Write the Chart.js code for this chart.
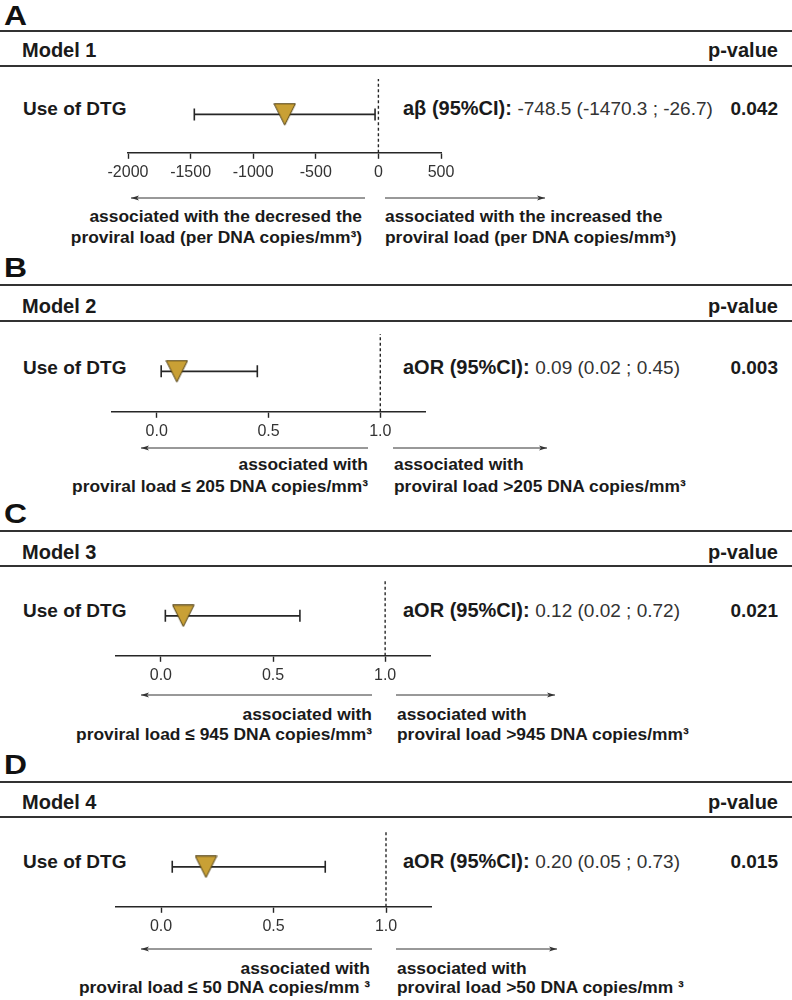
<!DOCTYPE html>
<html>
<head>
<meta charset="utf-8">
<script src="https://cdn.jsdelivr.net/npm/chart.js@4/dist/chart.umd.min.js"></script>
<style>
  html, body { margin: 0; padding: 0; background: #fff; }
  #page { position: relative; width: 792px; height: 1000px; overflow: hidden;
          font-family: "Liberation Sans", Arial, sans-serif; color: #1a1a1a; }
  .t { position: absolute; line-height: 1; white-space: nowrap; transform: translateY(-50%); }
  .letter { transform: translateY(-50%) scaleX(1.18); transform-origin: left center; }
  .rule { position: absolute; left: 0; width: 792px; height: 2px; background: #333; }
  canvas { position: absolute; left: 0; }
  svg { position: absolute; left: 0; top: 0; }
</style>
</head>
<body>
<div id="page"></div>
<script>
// ---- data ----
const PANEL_LETTERS = ['A', 'B', 'C', 'D'];
const MODEL_NAMES = ['Model 1', 'Model 2', 'Model 3', 'Model 4'];
const ROW_LABEL = 'Use of DTG';
const P_HEADER = 'p-value';

const EFFECT_LABELS = ['aβ (95%CI):', 'aOR (95%CI):', 'aOR (95%CI):', 'aOR (95%CI):'];
const EFFECT_TEXT = ['-748.5 (-1470.3 ; -26.7)', '0.09 (0.02 ; 0.45)', '0.12 (0.02 ; 0.72)', '0.20 (0.05 ; 0.73)'];
const P_VALUES = ['0.042', '0.003', '0.021', '0.015'];

// plotted marks (as drawn in the picture)
const ESTIMATES = [-748.5, 0.09, 0.10, 0.20];
const CI_LOWER = [-1470.3, 0.02, 0.02, 0.05];
const CI_UPPER = [-26.7, 0.45, 0.62, 0.73];
const NULL_VALUES = [0, 1, 1, 1];

const AXIS_MIN = [-2000, -0.2, -0.2, -0.2];
const AXIS_MAX = [500, 1.2, 1.2, 1.2];
const TICKS_BETA = [-2000, -1500, -1000, -500, 0, 500];
const TICKS_OR = [0, 0.5, 1];
const AXIS_TICKS = [TICKS_BETA, TICKS_OR, TICKS_OR, TICKS_OR];
const TICK_DECIMALS = [0, 1, 1, 1];

const LEFT_NOTES = [
  ['associated with the decresed the', 'proviral load (per DNA copies/mm³)'],
  ['associated with', 'proviral load ≤ 205 DNA copies/mm³'],
  ['associated with', 'proviral load ≤ 945 DNA copies/mm³'],
  ['associated with', 'proviral load ≤ 50 DNA copies/mm ³']
];
const RIGHT_NOTES = [
  ['associated with the increased the', 'proviral load (per DNA copies/mm³)'],
  ['associated with', 'proviral load >205 DNA copies/mm³'],
  ['associated with', 'proviral load >945 DNA copies/mm³'],
  ['associated with', 'proviral load >50 DNA copies/mm ³']
];

// ---- layout (pixels) ----
const LAYOUT = [
  {letterY: 16, rule1: 31, headY: 50, rule2: 66, rowY: 107.5, axisY: 153, left: 128, right: 441,
   arrowY: 198, arrowL: [365, 131], arrowR: [385, 545], noteR: 362, noteL: 385, noteY: [216.5, 237.5]},
  {letterY: 268, rule1: 285, headY: 306, rule2: 321, rowY: 367, axisY: 412, left: 112, right: 425,
   arrowY: 448, arrowL: [368, 141], arrowR: [393, 547], noteR: 368, noteL: 394, noteY: [465, 486.5]},
  {letterY: 514, rule1: 531, headY: 551.5, rule2: 566, rowY: 610, axisY: 656, left: 116, right: 430,
   arrowY: 695, arrowL: [372, 141], arrowR: [396, 555], noteR: 372, noteL: 397, noteY: [715, 735]},
  {letterY: 765, rule1: 782, headY: 802, rule2: 817, rowY: 861, axisY: 907, left: 116, right: 431,
   arrowY: 949, arrowL: [372, 141], arrowR: [396, 557], noteR: 370, noteL: 397, noteY: [969, 988]}
];

const W = 792;
const TICK_FONT = 16, TICK_PAD = 4, TICK_LEN = 6;
const AXIS_H = TICK_LEN + TICK_FONT * 1.2 + TICK_PAD * 2;
const INK = '#262626';
const GOLD = '#C9A035';

Chart.defaults.font.family = '"Liberation Sans", Arial, sans-serif';
Chart.defaults.color = '#333';

const page = document.getElementById('page');

function addText(txt, x, y, size, weight, align, color) {
  const d = document.createElement('div');
  d.className = 't';
  d.textContent = txt;
  d.style.top = y + 'px';
  d.style.fontSize = size + 'px';
  d.style.fontWeight = weight;
  if (color) d.style.color = color;
  if (align === 'right') d.style.right = (W - x) + 'px';
  else d.style.left = x + 'px';
  page.appendChild(d);
  return d;
}

function addRule(y) {
  const r = document.createElement('div');
  r.className = 'rule';
  r.style.top = (y - 1) + 'px';
  page.appendChild(r);
}

// triangle marker, centred in its box
function triangleMarker() {
  const c = document.createElement('canvas');
  c.width = 23; c.height = 23;
  const g = c.getContext('2d');
  g.beginPath();
  g.moveTo(0.8, 0.8);
  g.lineTo(22.2, 0.8);
  g.lineTo(11.5, 22.2);
  g.closePath();
  g.fillStyle = GOLD;
  g.fill();
  g.lineWidth = 1;
  g.strokeStyle = '#4d3d12';
  g.stroke();
  return c;
}
const marker = triangleMarker();

// arrows
const svgNS = 'http://www.w3.org/2000/svg';
const svg = document.createElementNS(svgNS, 'svg');
svg.setAttribute('width', W);
svg.setAttribute('height', 1000);
page.appendChild(svg);

function arrow(x1, x2, y) {
  // line from x1 to x2, head at x2
  const l = document.createElementNS(svgNS, 'line');
  l.setAttribute('x1', x1); l.setAttribute('x2', x2);
  l.setAttribute('y1', y); l.setAttribute('y2', y);
  l.setAttribute('stroke', '#333'); l.setAttribute('stroke-width', 1);
  svg.appendChild(l);
  const dir = x2 > x1 ? 1 : -1;
  const p = document.createElementNS(svgNS, 'path');
  p.setAttribute('d', `M${x2} ${y} L${x2 - dir * 8} ${y - 2.6} L${x2 - dir * 6} ${y} L${x2 - dir * 8} ${y + 2.6} Z`);
  p.setAttribute('fill', '#333');
  svg.appendChild(p);
}

const ROW_Y = 0.52;

LAYOUT.forEach((L, i) => {
  addText(PANEL_LETTERS[i], 4, L.letterY, 27, 'bold', 'left', '#111').classList.add('letter');
  addRule(L.rule1);
  addRule(L.rule2);
  addText(MODEL_NAMES[i], 22, L.headY, 20, 'bold', 'left');
  addText(P_HEADER, 778, L.headY, 20, 'bold', 'right');
  addText(ROW_LABEL, 23, L.rowY, 19, 'bold', 'left');

  // effect line: bold label + regular numbers
  const eff = addText('', 403, L.rowY, 20, 'bold', 'left');
  const b = document.createElement('span');
  b.textContent = EFFECT_LABELS[i] + ' ';
  const v = document.createElement('span');
  v.textContent = EFFECT_TEXT[i];
  v.style.fontWeight = 'normal';
  v.style.fontSize = '19px';
  v.style.color = '#333';
  eff.appendChild(b); eff.appendChild(v);
  addText(P_VALUES[i], 778, L.rowY, 19, 'bold', 'right');

  LEFT_NOTES[i].forEach((s, k) => addText(s, L.noteR, L.noteY[k], 17.4, 'bold', 'right'));
  RIGHT_NOTES[i].forEach((s, k) => addText(s, L.noteL, L.noteY[k], 17.4, 'bold', 'left'));
  arrow(L.arrowL[0], L.arrowL[1], L.arrowY);
  arrow(L.arrowR[0], L.arrowR[1], L.arrowY);

  // forest plot
  const cv = document.createElement('canvas');
  cv.width = W;
  cv.height = Math.round(L.axisY - L.rule2 + AXIS_H);
  cv.style.top = L.rule2 + 'px';
  page.appendChild(cv);

  const ticks = AXIS_TICKS[i];
  const dec = TICK_DECIMALS[i];
  const chart = new Chart(cv.getContext('2d'), {
    type: 'scatter',
    data: {
      datasets: [
        {
          data: [{x: ESTIMATES[i], y: ROW_Y}],
          pointStyle: marker,
          pointRadius: 12,
          order: 0
        },
        {
          data: [{x: CI_LOWER[i], y: ROW_Y}, {x: CI_UPPER[i], y: ROW_Y}],
          showLine: true,
          borderColor: INK,
          borderWidth: 1.6,
          pointStyle: 'line',
          rotation: 90,
          pointRadius: 6,
          pointBorderWidth: 1.6,
          pointBorderColor: INK,
          order: 1
        },
        {
          data: [{x: NULL_VALUES[i], y: 0}, {x: NULL_VALUES[i], y: 1}],
          showLine: true,
          borderColor: INK,
          borderWidth: 1.4,
          borderDash: [3, 2.5],
          pointRadius: 0,
          order: 2
        }
      ]
    },
    options: {
      responsive: false,
      animation: false,
      events: [],
      layout: {padding: {left: L.left, right: W - L.right, top: 0, bottom: 0}},
      plugins: {legend: {display: false}, tooltip: {enabled: false}},
      scales: {
        x: {
          type: 'linear',
          min: AXIS_MIN[i],
          max: AXIS_MAX[i],
          border: {display: true, color: INK, width: 1.6},
          grid: {display: true, drawOnChartArea: false, drawTicks: true,
                 tickLength: TICK_LEN, tickWidth: 1.4, tickColor: INK},
          afterBuildTicks: s => { s.ticks = ticks.map(t => ({value: t})); },
          ticks: {
            font: {size: TICK_FONT},
            color: '#333',
            padding: TICK_PAD,
            maxRotation: 0,
            autoSkip: false,
            callback: val => Number(val).toFixed(dec)
          }
        },
        y: {type: 'linear', min: 0, max: 1, display: false}
      }
    }
  });
  // line the chart area bottom up with the axis position
  cv.style.top = (L.axisY - chart.chartArea.bottom) + 'px';
});
</script>
</body>
</html>
